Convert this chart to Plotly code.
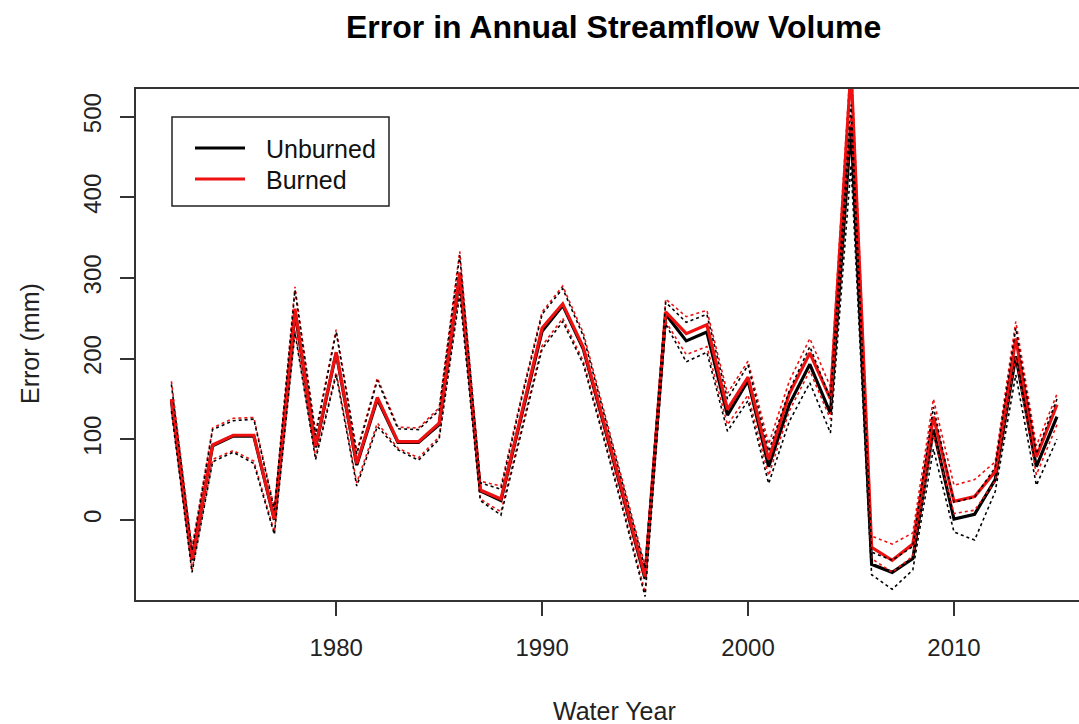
import plotly.graph_objects as go

# Water years
years = list(range(1972, 2016))

# Error in annual streamflow volume (mm), unburned model run
unburned = [148, -50, 92, 104, 104, 0, 258, 90, 207, 68,
            150, 96, 96, 118, 303, 36, 24, 130, 234, 266,
            212, 118, 22, -73, 255, 222, 233, 130, 173, 66,
            143, 193, 132, 488, -55, -65, -48, 112, 1, 7,
            50, 203, 66, 128]
unburned_upper = [168, -38, 112, 123, 125, 12, 285, 105, 233, 82,
                  173, 113, 112, 136, 328, 46, 38, 150, 255, 287,
                  228, 132, 35, -60, 270, 245, 255, 150, 192, 85,
                  160, 215, 150, 515, -40, -50, -33, 140, 22, 28,
                  65, 238, 82, 150]
unburned_lower = [135, -65, 72, 84, 70, -18, 232, 75, 180, 42,
                  116, 87, 74, 100, 280, 24, 6, 110, 212, 246,
                  193, 100, 5, -95, 243, 196, 208, 110, 148, 45,
                  122, 170, 108, 440, -68, -86, -62, 88, -15, -25,
                  35, 180, 43, 100]

# Error in annual streamflow volume (mm), burned model run
burned = [150, -48, 93, 105, 105, 1, 262, 92, 208, 70,
          152, 97, 97, 120, 307, 37, 26, 132, 238, 268,
          214, 121, 25, -70, 258, 231, 242, 137, 177, 75,
          156, 207, 150, 560, -34, -50, -30, 128, 23, 29,
          60, 225, 78, 143]
burned_upper = [172, -35, 114, 126, 127, 14, 289, 108, 236, 85,
                176, 115, 114, 139, 333, 48, 42, 153, 258, 290,
                232, 136, 38, -57, 274, 252, 260, 157, 197, 94,
                172, 225, 165, 575, -20, -30, -16, 150, 43, 50,
                72, 246, 92, 156]
burned_lower = [138, -62, 75, 86, 73, -15, 236, 78, 183, 46,
                120, 89, 77, 103, 285, 26, 10, 114, 216, 250,
                197, 104, 9, -90, 246, 205, 215, 118, 155, 55,
                135, 185, 125, 500, -48, -65, -45, 106, 8, 12,
                48, 202, 56, 118]

x_ticks = [1980, 1990, 2000, 2010]
y_ticks = [0, 100, 200, 300, 400, 500]

FONT = "Liberation Sans, Arial, sans-serif"
BLACK = "#000000"
RED = "#ee1111"

fig = go.Figure()

fig.add_trace(go.Scatter(x=years, y=unburned, mode="lines", name="Unburned",
                         line=dict(color=BLACK, width=3.2)))
fig.add_trace(go.Scatter(x=years, y=burned, mode="lines", name="Burned",
                         line=dict(color=RED, width=3.2)))
for ys in (burned_upper, burned_lower):
    fig.add_trace(go.Scatter(x=years, y=ys, mode="lines", showlegend=False,
                             line=dict(color=RED, width=1.6, dash="3px,3px")))
for ys in (unburned_upper, unburned_lower):
    fig.add_trace(go.Scatter(x=years, y=ys, mode="lines", showlegend=False,
                             line=dict(color=BLACK, width=1.6, dash="3px,3px")))

axis_common = dict(
    showgrid=False, zeroline=False, showline=True, linecolor="#333333",
    linewidth=2, ticks="outside", ticklen=14, tickwidth=1.5, tickcolor="#333333",
    tickfont=dict(family=FONT, size=24, color="#222222"),
)

fig.update_xaxes(range=[1970.28, 2016.07], tickvals=x_ticks, mirror=True,
                 ticklabelstandoff=11, **axis_common)
fig.update_yaxes(range=[-99.3, 534.4], tickvals=y_ticks, tickangle=-90,
                 ticklabelstandoff=9, **axis_common)

# Legend box drawn in paper coordinates
def px(xp):
    return (xp - 136) / 943.0

def py(yp):
    return (600 - yp) / 511.0

shapes = [
    dict(type="rect", xref="paper", yref="paper",
         x0=px(172), x1=px(389), y0=py(206), y1=py(117),
         line=dict(color="#222222", width=1.5), fillcolor="white", layer="above"),
    dict(type="line", xref="paper", yref="paper",
         x0=px(195), x1=px(245), y0=py(148), y1=py(148),
         line=dict(color=BLACK, width=3.2), layer="above"),
    dict(type="line", xref="paper", yref="paper",
         x0=px(195), x1=px(245), y0=py(179), y1=py(179),
         line=dict(color=RED, width=3.2), layer="above"),
]

annotations = [
    dict(text="Unburned", xref="paper", yref="paper", x=px(264), y=py(149),
         xanchor="left", yanchor="middle", showarrow=False,
         font=dict(family=FONT, size=25, color="#111111")),
    dict(text="Burned", xref="paper", yref="paper", x=px(264), y=py(180),
         xanchor="left", yanchor="middle", showarrow=False,
         font=dict(family=FONT, size=25, color="#111111")),
    dict(text="<b>Error in Annual Streamflow Volume</b>", xref="paper", yref="paper",
         x=px(613), y=py(27), xanchor="center", yanchor="middle", showarrow=False,
         font=dict(family=FONT, size=32, color="#000000")),
    dict(text="Water Year", xref="paper", yref="paper", x=px(614), y=py(711),
         xanchor="center", yanchor="middle", showarrow=False,
         font=dict(family=FONT, size=25, color="#222222")),
    dict(text="Error (mm)", xref="paper", yref="paper", x=px(30), y=py(344),
         xanchor="center", yanchor="middle", showarrow=False, textangle=-90,
         font=dict(family=FONT, size=25, color="#222222")),
]

fig.update_layout(
    width=1079, height=724,
    margin=dict(l=136, r=0, t=89, b=124),
    paper_bgcolor="white", plot_bgcolor="white",
    showlegend=False, shapes=shapes, annotations=annotations,
)

fig.write_html("out.html")
